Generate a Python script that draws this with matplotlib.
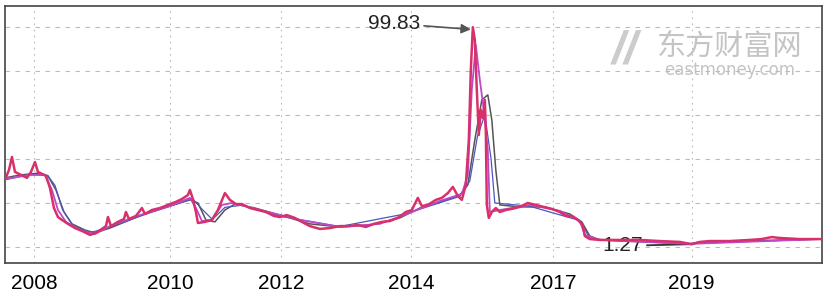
import matplotlib.pyplot as plt

plt.rcParams['font.family'] = ['Liberation Sans', 'DejaVu Sans']

# x = trading-day index, y = price
price_x = [0, 16, 28, 40, 56, 72, 88, 104, 120, 132, 148, 164, 180, 196, 212, 228, 252, 280, 308, 340,
           364, 388, 404, 412, 424, 452, 476, 484, 496, 524, 548, 560, 588, 620, 652, 684, 708, 732, 740, 752,
           764, 772, 800, 828, 852, 880, 900, 924, 948, 980, 1012, 1044, 1076, 1100, 1128, 1160, 1188, 1220, 1260, 1300,
           1340, 1380, 1412, 1444, 1476, 1508, 1540, 1572, 1604, 1628, 1652, 1668, 1692, 1724, 1748, 1772, 1792, 1812, 1828, 1844,
           1856, 1864, 1872, 1880, 1888, 1896, 1904, 1912, 1920, 1924, 1928, 1936, 1948, 1964, 1980, 2004, 2028, 2060, 2092, 2124,
           2156, 2188, 2220, 2244, 2268, 2292, 2312, 2320, 2340, 2380, 2460, 2540, 2620, 2700, 2748, 2780, 2820, 2900, 2980, 3028,
           3068, 3100, 3180, 3268]
price_y = [30.5, 35.0, 40.9, 34.1, 33.2, 32.3, 31.4, 34.1, 38.6, 34.1, 33.2, 32.3, 26.8, 17.7, 13.6, 12.3, 10.5, 8.6, 7.3, 5.5,
           6.4, 8.2, 9.5, 13.6, 9.5, 11.4, 12.7, 15.9, 12.7, 14.1, 17.7, 15.0, 16.8, 17.7, 19.1, 20.5, 21.8, 23.6, 25.9, 21.8,
           15.9, 10.9, 11.4, 12.3, 16.8, 24.5, 21.4, 19.5, 19.5, 17.7, 16.8, 15.9, 14.1, 13.6, 14.5, 13.2, 11.4, 9.5, 8.2, 8.6,
           9.5, 9.5, 10.0, 9.1, 10.5, 11.4, 11.8, 13.2, 15.9, 16.8, 22.3, 18.6, 19.1, 21.4, 22.3, 24.5, 27.3, 23.2, 21.4, 28.2,
           48.6, 80.4, 99.83, 94.1, 71.4, 50.9, 62.3, 58.6, 66.8, 53.2, 19.1, 13.2, 15.9, 17.7, 15.9, 16.8, 17.3, 18.2, 20.0, 19.1,
           18.2, 17.3, 15.9, 14.1, 14.1, 12.3, 10.0, 5.0, 3.6, 3.2, 3.2, 3.2, 2.7, 2.3, 1.27, 2.3, 2.7, 2.7, 3.2, 3.6,
           4.5, 4.1, 3.6, 3.6]

ma_grey_x = [0, 60, 140, 172, 204, 236, 268, 320, 360, 420, 500, 580, 660, 740, 772, 804, 840, 880, 920, 1000,
             1100, 1220, 1340, 1460, 1580, 1660, 1740, 1820, 1852, 1880, 1908, 1932, 1948, 1964, 1980, 2060, 2160, 2260, 2308, 2340,
             2380, 2740, 2780, 3268]
ma_grey_y = [31.4, 32.7, 33.6, 32.3, 25.9, 15.9, 10.5, 7.7, 6.4, 8.6, 12.3, 15.9, 18.6, 21.4, 20.0, 12.3, 11.4, 16.8, 19.5, 17.7,
             14.5, 10.5, 9.1, 10.0, 13.2, 17.7, 20.5, 23.6, 28.2, 48.6, 66.8, 69.1, 57.7, 35.0, 19.1, 18.2, 18.2, 15.0, 11.4, 5.0,
             3.2, 1.4, 2.3, 3.6]

ma_purple_x = [0, 100, 160, 188, 212, 244, 300, 360, 420, 540, 660, 740, 764, 788, 828, 868, 908, 1020, 1180, 1340,
               1500, 1620, 1740, 1828, 1852, 1868, 1884, 1900, 1916, 1932, 1940, 1980, 2100, 2220, 2300, 2320, 2380, 2740, 3268]
ma_purple_y = [30.9, 32.7, 32.7, 25.9, 16.8, 11.4, 7.7, 5.9, 9.5, 14.5, 18.6, 22.3, 17.7, 11.8, 12.3, 19.1, 20.0, 16.8, 12.3, 9.1,
               10.5, 15.5, 20.9, 24.1, 32.7, 71.4, 91.8, 75.9, 62.3, 44.1, 15.9, 16.8, 19.1, 16.4, 11.8, 5.5, 3.2, 1.4, 3.6]

ma_blue_x = [0, 100, 170, 200, 230, 270, 340, 420, 540, 660, 750, 790, 830, 880, 950, 1100, 1340, 1600, 1820, 1860,
             1890, 1920, 1945, 1960, 2100, 2300, 2340, 2400, 2740, 3268]
ma_blue_y = [30.5, 33.0, 32.5, 28.0, 17.0, 10.0, 6.5, 9.0, 14.0, 18.5, 22.0, 17.0, 12.5, 18.0, 19.0, 14.0, 9.3, 15.0, 23.0, 30.0,
             50.0, 60.0, 40.0, 20.0, 18.5, 12.0, 4.0, 3.2, 1.6, 3.6]

tick_pos = [116, 660, 1104, 1624, 2192, 2748]
tick_labels = ['2008', '2010', '2012', '2014', '2017', '2019']
grid_y = [0, 20, 40, 60, 80, 100]

fig = plt.figure(figsize=(8.3, 2.96), dpi=100)
ax = fig.add_axes([0.006, 0.1115, 0.984, 0.8685])

# watermark (behind the data)
ax.text(2900, 91, '东方财富网', fontsize=21, color='#c4c4c4', ha='center', va='center',
        family=['Noto Sans CJK SC', 'DejaVu Sans'], zorder=1)
ax.text(2900, 80.5, 'eastmoney.com', fontsize=12, color='#c4c4c4', ha='center', va='center',
        family='DejaVu Sans', zorder=1)
ax.text(2480, 89, '//', fontsize=34, color='#cccccc', ha='center', va='center', zorder=1,
        fontweight='bold', style='italic')

ax.plot(ma_grey_x, ma_grey_y, color='#555555', lw=1.1, zorder=3)
ax.plot(ma_blue_x, ma_blue_y, color='#4a58b8', lw=0.9, zorder=3)
ax.plot(ma_purple_x, ma_purple_y, color='#c048c8', lw=1.3, zorder=4)
ax.plot(price_x, price_y, color='#d8306a', lw=1.8, zorder=5)

ax.set_xlim(0, 3268)
ax.set_ylim(-7.27, 109.5)
ax.set_xticks(tick_pos)
ax.set_xticklabels(tick_labels, fontsize=15)
ax.set_yticks(grid_y)
ax.set_yticklabels([])
ax.tick_params(length=0, pad=8)
ax.grid(axis='y', color='#bbbbbb', lw=0.8, ls=(0, (4, 5)))
ax.grid(axis='x', color='#bbbbbb', lw=0.8, ls=(0, (1.5, 4)))
for s in ax.spines.values():
    s.set_color('#444444')
    s.set_linewidth(1.2)

# max / min annotations
imax = price_y.index(max(price_y))
imin = price_y.index(min(price_y))
ax.annotate('%.2f' % price_y[imax], xy=(price_x[imax] - 8, price_y[imax] - 1), xytext=(1660, 101.5),
            fontsize=15, ha='right', va='center', color='#222222',
            arrowprops=dict(arrowstyle='-|>', color='#555555', lw=1.2, mutation_scale=14,
                            shrinkA=1, shrinkB=0))
ax.annotate('%.2f' % price_y[imin], xy=(price_x[imin], price_y[imin]), xytext=(2552, 0.5),
            fontsize=15, ha='right', va='center', color='#222222',
            arrowprops=dict(arrowstyle='-', color='#333333', lw=1.3, shrinkA=1, shrinkB=0))

fig.savefig('out.png', dpi=100)
